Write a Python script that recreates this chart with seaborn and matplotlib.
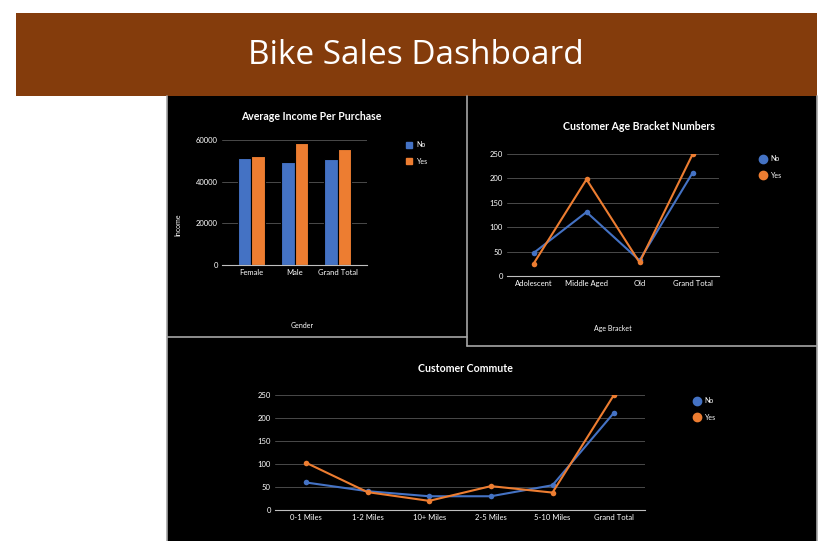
import matplotlib
matplotlib.use("Agg")
import matplotlib.pyplot as plt
from matplotlib.lines import Line2D
from matplotlib.patches import Rectangle
import pandas as pd
import seaborn as sns

# data
genders = ["Female", "Male", "Grand Total"]
income_no = [51400, 49400, 50900]
income_yes = [52200, 58500, 55700]

age_brackets = ["Adolescent", "Middle Aged", "Old", "Grand Total"]
age_no = [47, 131, 32, 211]
age_yes = [25, 198, 28, 249]

commutes = ["0-1 Miles", "1-2 Miles", "10+ Miles", "2-5 Miles", "5-10 Miles", "Grand Total"]
commute_no = [59, 40, 29, 29, 53, 211]
commute_yes = [102, 38, 19, 51, 37, 250]

BLUE = "#4472C4"
ORANGE = "#ED7D31"
palette = {"No": BLUE, "Yes": ORANGE}

W, H = 832, 541
sns.set_style("dark")
plt.rcParams["font.family"] = ["Lato", "DejaVu Sans"]


def box(x0, y0, x1, y1):
    return [x0 / W, 1 - y1 / H, (x1 - x0) / W, (y1 - y0) / H]


def long_df(cats, no, yes, name):
    return pd.DataFrame({name: cats * 2,
                         "value": no + yes,
                         "Purchased": ["No"] * len(cats) + ["Yes"] * len(cats)})


def style_axis(ax, ticks):
    ax.set_facecolor("none")
    for s in ["top", "right", "left"]:
        ax.spines[s].set_visible(False)
    ax.spines["bottom"].set_color("#bfbfbf")
    ax.spines["bottom"].set_linewidth(0.8)
    ax.set_yticks(ticks)
    ax.grid(axis="y", color="#4a4a4a", linewidth=0.7)
    ax.grid(axis="x", visible=False)
    ax.tick_params(colors="white", labelsize=5.5, length=0, pad=3)
    ax.set_xlabel("")
    ax.set_ylabel("")


def add_legend(ax, x, y, marker, ms):
    handles = [Line2D([], [], marker=marker, linestyle="none", color=c,
                      markersize=ms, label=l) for l, c in palette.items()]
    leg = ax.legend(handles=handles, loc="upper left", frameon=False,
                    bbox_to_anchor=(x / W, 1 - y / H),
                    bbox_transform=fig.transFigure, fontsize=5,
                    labelcolor="white", handletextpad=0.6, labelspacing=1.3,
                    borderpad=0, handlelength=1)
    return leg


fig = plt.figure(figsize=(W / 100, H / 100), dpi=100)
fig.patch.set_facecolor("white")

# background layer in pixel coordinates
bg = fig.add_axes([0, 0, 1, 1])
bg.set_xlim(0, W)
bg.set_ylim(H, 0)
bg.axis("off")
bg.add_patch(Rectangle((16, 13), 801, 83, color="#843C0C", lw=0))
bg.text(416, 56, "Bike Sales Dashboard", color="white", fontsize=24,
        ha="center", va="center", family=["Open Sans", "DejaVu Sans"])
bg.add_patch(Rectangle((167, 96), 650, 445, color="black", lw=0))
grey = "#a6a6a6"
bg.plot([166.5, 166.5], [96, 541], color=grey, lw=1.2)
bg.plot([817, 817], [96, 541], color=grey, lw=1.2)
bg.plot([167, 467], [337, 337], color=grey, lw=1.2)
bg.plot([467, 467], [96, 346], color=grey, lw=1.2)
bg.plot([467, 817], [346, 346], color=grey, lw=1.2)

bg.text(311, 117, "Average Income Per Purchase", color="white", fontsize=7.6,
        ha="center", va="center", fontweight="bold")
bg.text(639, 126, "Customer Age Bracket Numbers", color="white", fontsize=7.6,
        ha="center", va="center", fontweight="bold")
bg.text(465, 369, "Customer Commute", color="white", fontsize=7.6,
        ha="center", va="center", fontweight="bold")

# income bars
ax1 = fig.add_axes(box(222, 140, 367, 265))
sns.barplot(data=long_df(genders, income_no, income_yes, "Gender"),
            x="Gender", y="value", hue="Purchased", palette=palette,
            saturation=1, width=0.62, edgecolor="black", linewidth=0.8,
            legend=False, ax=ax1)
style_axis(ax1, [0, 20000, 40000, 60000])
ax1.set_ylim(0, 60000)
ax1.set_xlim(-0.67, 2.67)
ax1.set_xlabel("Gender", color="white", fontsize=5)
ax1.xaxis.set_label_coords(0.55, -0.46)
ax1.set_ylabel("Income", color="white", fontsize=5)
ax1.yaxis.set_label_coords(-0.28, 0.32)
add_legend(ax1, 402, 138, "s", 5)

# age bracket lines
ax2 = fig.add_axes(box(507, 154, 719, 276))
sns.lineplot(data=long_df(age_brackets, age_no, age_yes, "Age Bracket"),
             x="Age Bracket", y="value", hue="Purchased", palette=palette,
             marker="o", markersize=4, markeredgewidth=0, linewidth=1.5,
             legend=False, ax=ax2)
style_axis(ax2, [0, 50, 100, 150, 200, 250])
ax2.set_ylim(0, 250)
ax2.set_xlim(-0.5, 3.5)
ax2.set_xlabel("Age Bracket", color="white", fontsize=5)
ax2.xaxis.set_label_coords(0.5, -0.40)
add_legend(ax2, 756, 152, "o", 6)

# commute lines
ax3 = fig.add_axes(box(275, 394.6, 645, 509.6))
sns.lineplot(data=long_df(commutes, commute_no, commute_yes, "Commute"),
             x="Commute", y="value", hue="Purchased", palette=palette,
             marker="o", markersize=4, markeredgewidth=0, linewidth=1.5,
             legend=False, ax=ax3)
style_axis(ax3, [0, 50, 100, 150, 200, 250])
ax3.set_ylim(0, 250)
ax3.set_xlim(-0.5, 5.5)
add_legend(ax3, 690, 394, "o", 6)

fig.savefig("out.png", dpi=100, facecolor="white")
